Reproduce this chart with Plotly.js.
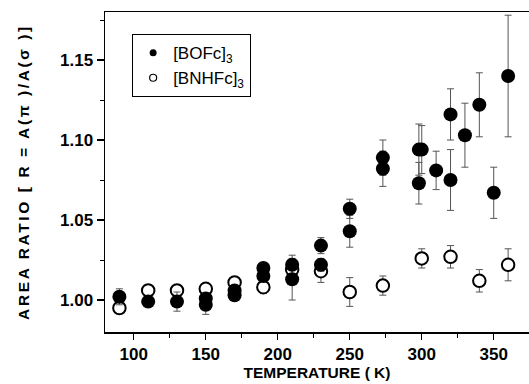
<!DOCTYPE html>
<html>
<head>
<meta charset="utf-8">
<script src="https://cdn.plot.ly/plotly-3.0.1.min.js"></script>
<style>
html,body{margin:0;padding:0;background:#fff;}
#chart{width:529px;height:384px;}
#chart .ytitle{letter-spacing:2.6px;}
</style>
</head>
<body>
<div id="chart"></div>
<script>
// [BOFc]3 (filled circles)
const bofcT   = [90,110,130,150,150,170,170,190,190,210,210,230,230,250,250,273,273,298,298,300,310,320,320,330,340,350,360];
const bofcR   = [1.002,0.999,0.999,1.001,0.997,1.006,1.003,1.020,1.015,1.022,1.013,1.034,1.022,1.057,1.043,1.089,1.082,1.094,1.073,1.094,1.081,1.116,1.075,1.103,1.122,1.067,1.140];
const bofcErr = [0.005,0.003,0.006,0.003,0.006,0.003,0.003,0.003,0.003,0.006,0.013,0.005,0.004,0.006,0.010,0.011,0.011,0.016,0.013,0.015,0.012,0.016,0.019,0.020,0.020,0.016,0.038];

// [BNHFc]3 (open circles)
const bnhfcT   = [90,110,130,150,170,190,210,230,250,273,300,320,340,360];
const bnhfcR   = [0.995,1.006,1.006,1.007,1.011,1.008,1.019,1.018,1.005,1.009,1.026,1.027,1.012,1.022];
const bnhfcErr = [0.003,0.003,0.003,0.003,0.003,0.004,0.004,0.007,0.009,0.006,0.006,0.007,0.007,0.010];

const xTicks = [100,150,200,250,300,350];
const yTicks = [1.00,1.05,1.10,1.15];
const yTickText = ['1.00','1.05','1.10','1.15'];

const FONT = '"Liberation Sans", Arial, Helvetica, sans-serif';
const errStyle = {type:'data', visible:true, color:'#555', thickness:1, width:3.5};

const traces = [
  {x:bnhfcT, y:bnhfcR, type:'scatter', mode:'markers', showlegend:false,
   error_y:Object.assign({array:bnhfcErr}, errStyle),
   marker:{symbol:'circle', size:12.5, color:'#fff', line:{color:'#000', width:2}}},
  {x:bofcT, y:bofcR, type:'scatter', mode:'markers', showlegend:false,
   error_y:Object.assign({array:bofcErr}, errStyle),
   marker:{symbol:'circle', size:14, color:'#000', line:{color:'#000', width:0}}},
  {x:[null], y:[null], type:'scatter', mode:'markers', name:'[BOFc]<sub>3</sub>',
   marker:{symbol:'circle', size:7, color:'#000'}},
  {x:[null], y:[null], type:'scatter', mode:'markers', name:'[BNHFc]<sub>3</sub>',
   marker:{symbol:'circle', size:7, color:'#fff', line:{color:'#000', width:1.2}}}
];

const layout = {
  width:529, height:384,
  margin:{l:105, r:0, t:12, b:52},
  paper_bgcolor:'#fff', plot_bgcolor:'#fff',
  font:{family:FONT, color:'#000'},
  showlegend:true,
  legend:{x:0.064, y:0.931, xanchor:'left', yanchor:'top', bordercolor:'#000', borderwidth:1,
          bgcolor:'#fff', font:{family:FONT, size:17, color:'#000'}, tracegroupgap:0},
  xaxis:{range:[80,374.5], showline:true, linecolor:'#000', linewidth:1.5, mirror:true,
         showgrid:false, zeroline:false, ticks:'outside', ticklen:6, tickwidth:1.2, tickcolor:'#000',
         tickmode:'array', tickvals:xTicks, ticktext:xTicks.map(String),
         tickfont:{family:FONT, size:17, color:'#000', weight:'bold'},
         minor:{dtick:25, tick0:0, ticks:'outside', ticklen:4, tickwidth:1, tickcolor:'#000'},
         title:{text:'TEMPERATURE ( K)', standoff:3, font:{family:FONT, size:15.5, color:'#000', weight:'bold'}}},
  yaxis:{range:[0.98,1.18], showline:true, linecolor:'#000', linewidth:1.5, mirror:false,
         showgrid:false, zeroline:false, ticks:'outside', ticklen:7, tickwidth:1.2, tickcolor:'#000',
         tickmode:'array', tickvals:yTicks, ticktext:yTickText,
         tickfont:{family:FONT, size:17, color:'#000', weight:'bold'},
         minor:{dtick:0.025, tick0:0, ticks:'outside', ticklen:4, tickwidth:1, tickcolor:'#000'},
         title:{text:'AREA RATIO [ R = A(π )/A(σ )]', standoff:26, font:{family:FONT, size:15.5, color:'#000', weight:'bold'}}}
};

Plotly.newPlot('chart', traces, layout, {displayModeBar:false, staticPlot:true});
</script>
</body>
</html>
